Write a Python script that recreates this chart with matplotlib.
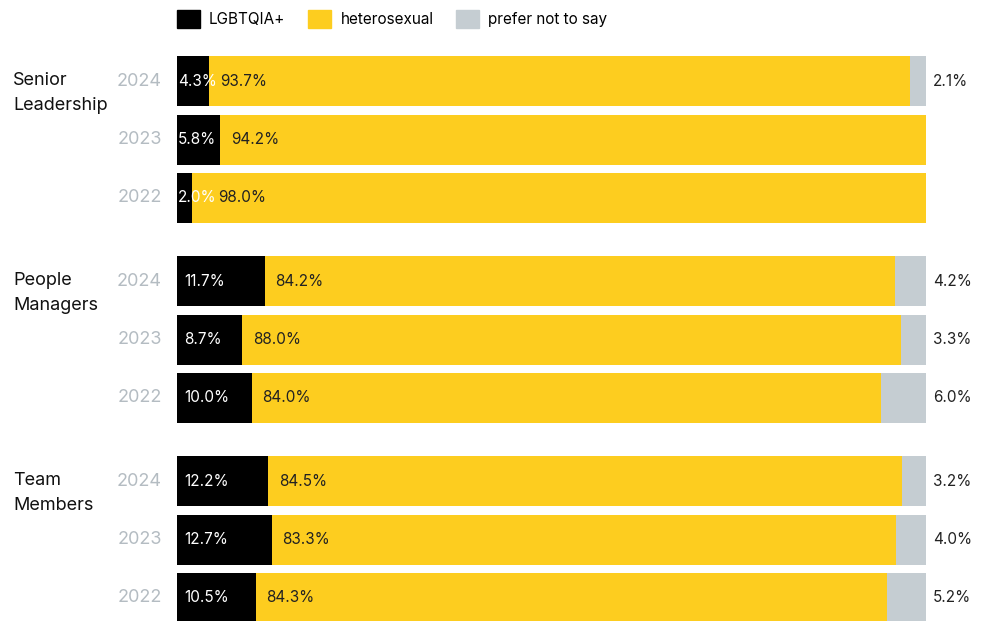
import matplotlib.pyplot as plt
from matplotlib.patches import Patch

plt.rcParams['font.family'] = ['Inter', 'DejaVu Sans']

groups = ["Senior\nLeadership", "People\nManagers", "Team\nMembers"]
years = ["2024", "2023", "2022"]

# share per group/year, rows in the order of years above
lgbtqia = [[4.3, 5.8, 2.0], [11.7, 8.7, 10.0], [12.2, 12.7, 10.5]]
hetero = [[93.7, 94.2, 98.0], [84.2, 88.0, 84.0], [84.5, 83.3, 84.3]]
no_say = [[2.1, 0.0, 0.0], [4.2, 3.3, 6.0], [3.2, 4.0, 5.2]]

BLACK = "#000000"
YELLOW = "#FDCD1F"
GREY = "#C5CDD2"
YEAR_COL = "#B4BCC2"

fig = plt.figure(figsize=(9.83, 6.21), dpi=100)
ax = fig.add_axes([177 / 983, 0, (926 - 177) / 983, 1])
ax.set_xlim(0, 100)
ax.set_ylim(621, 0)
ax.axis("off")

for g, name in enumerate(groups):
    for i, yr in enumerate(years):
        y = 81 + g * 200 + i * 58.5
        a, b, c = lgbtqia[g][i], hetero[g][i], no_say[g][i]
        tot = a + b + c
        wa, wb = a / tot * 100, b / tot * 100
        wc = 100 - wa - wb
        ax.barh(y, wa, height=50, left=0, color=BLACK)
        ax.barh(y, wb, height=50, left=wa, color=YELLOW)
        if c > 0:
            ax.barh(y, wc, height=50, left=wa + wb, color=GREY)
            ax.text(100.9, y, f"{c:.1f}%", va="center", ha="left",
                    fontsize=11, color="#222222")
        pad = 1.0 if wa > 8 else 0.1
        ax.text(pad, y, f"{a:.1f}%", va="center", ha="left",
                fontsize=11, color="white")
        ax.text(max(wa, 4.1) + 1.4, y, f"{b:.1f}%", va="center", ha="left",
                fontsize=11, color="#222222")
        fig.text(162 / 983, 1 - y / 621, yr, va="center", ha="right",
                 fontsize=13, color=YEAR_COL)
    fig.text(13 / 983, 1 - (81 + g * 200 + 12) / 621, name, va="center",
             ha="left", fontsize=13, color="#111111", linespacing=1.55)

handles = [Patch(facecolor=BLACK, edgecolor=BLACK),
           Patch(facecolor=YELLOW, edgecolor=YELLOW),
           Patch(facecolor=GREY, edgecolor=GREY)]
fig.legend(handles, ["LGBTQIA+", "heterosexual", "prefer not to say"],
           loc="center left", bbox_to_anchor=(177 / 983, 1 - 19 / 621),
           ncol=3, frameon=False, fontsize=11, handlelength=1.5,
           handleheight=1.5, handletextpad=0.6, columnspacing=1.5,
           borderpad=0, borderaxespad=0)

fig.savefig("out.png", dpi=100)
